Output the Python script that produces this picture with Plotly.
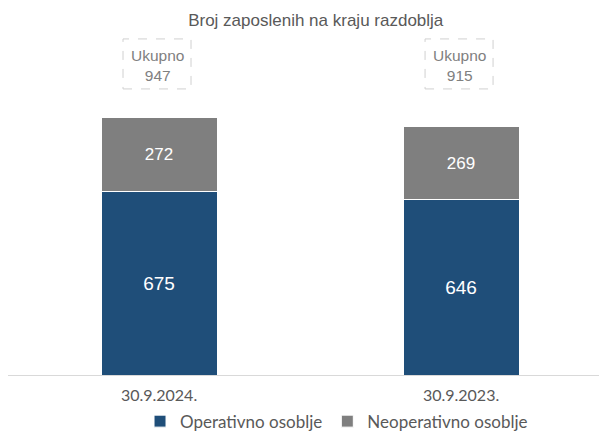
import plotly.graph_objects as go

categories = ["30.9.2024.", "30.9.2023."]
operativno = [675, 646]
neoperativno = [272, 269]
ukupno = [947, 915]
series_names = ["Operativno osoblje", "Neoperativno osoblje"]
title_text = "Broj zaposlenih na kraju razdoblja"

narrow = "Liberation Sans Narrow, Arial Narrow, Liberation Sans, Arial, sans-serif"
legend_font = "Lato, Carlito, Calibri, sans-serif"

BAR_W = 0.384

fig = go.Figure()
fig.add_trace(go.Bar(
    x=categories, y=operativno, name=series_names[0],
    marker=dict(color="#1F4E79", line=dict(color="white", width=1)),
    text=[str(v) for v in operativno], textposition="inside", insidetextanchor="middle",
    textfont=dict(family=narrow, size=19, color="white"), width=BAR_W,
))
fig.add_trace(go.Bar(
    x=categories, y=neoperativno, name=series_names[1],
    marker=dict(color="#7F7F7F", line=dict(color="white", width=1)),
    text=[str(v) for v in neoperativno], textposition="inside", insidetextanchor="middle",
    textfont=dict(family=narrow, size=17, color="white"), width=BAR_W,
))

for c, t in zip(categories, ukupno):
    fig.add_annotation(
        x=c, y=1146, xref="x", yref="y", text=f"Ukupno<br>{t}",
        showarrow=False, xshift=-2, yshift=-2,
        font=dict(family=narrow, size=15.5, color="#808080"),
    )
    fig.add_shape(
        type="rect", xref="x", yref="y", xsizemode="pixel", ysizemode="pixel",
        xanchor=c, yanchor=1146, x0=-36, x1=32, y0=-25, y1=25,
        line=dict(color="#D0D0D0", width=1, dash="dash"), fillcolor="rgba(0,0,0,0)",
    )

fig.update_layout(
    barmode="stack",
    width=607, height=432,
    margin=dict(l=0, r=15, t=22, b=65, autoexpand=False),
    paper_bgcolor="white", plot_bgcolor="white",
    title=dict(text=title_text, x=0.507, xanchor="center", y=0.972, yanchor="middle",
               font=dict(family=narrow, size=17, color="#595959")),
    showlegend=True,
    legend=dict(orientation="h", x=0.223, xanchor="left", y=-0.135, yanchor="middle",
                bgcolor="rgba(0,0,0,0)",
                font=dict(family=legend_font, size=17, color="#595959"),
                traceorder="normal", itemwidth=30),
    xaxis=dict(range=[-0.5, 1.46], showline=True, linecolor="#D9D9D9", linewidth=1,
               ticks="", ticklabelstandoff=6, automargin=False,
               tickfont=dict(family=legend_font, size=16, color="#595959")),
    yaxis=dict(range=[0, 1271], visible=False, showgrid=False, automargin=False),
)
fig.write_html("out.html")
